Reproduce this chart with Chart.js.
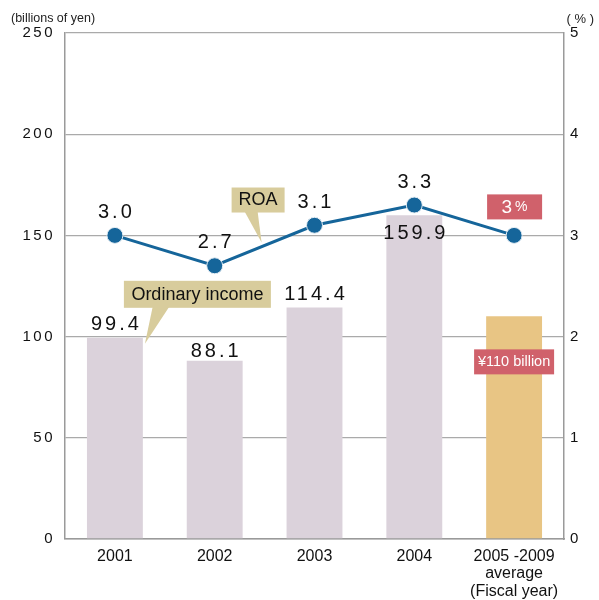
<!DOCTYPE html>
<html>
<head>
<meta charset="utf-8">
<script src="https://cdn.jsdelivr.net/npm/chart.js@4"></script>
<style>
  body { margin: 0; background: #fff; }
</style>
</head>
<body>
<canvas id="canvas" width="599" height="600"></canvas>
<script>
// DATA
const years = [['2001'], ['2002'], ['2003'], ['2004'], ['2005 -2009', 'average', '(Fiscal year)']];
const ordinaryIncome = [99.4, 88.1, 114.4, 159.9, 110];
const roa = [3.0, 2.7, 3.1, 3.3, 3.0];
const incomeLabels = ['99.4', '88.1', '114.4', '159.9', '¥110 billion'];
const roaLabels = ['3.0', '2.7', '3.1', '3.3', '3%'];

const barColors = ['#dbd2db', '#dbd2db', '#dbd2db', '#dbd2db', '#e8c584'];
const sans = '"Liberation Sans", Arial, sans-serif';

function box(ctx, x, y, w, h, color) {
    ctx.fillStyle = color;
    ctx.fillRect(x, y, w, h);
}

// labels, callouts and axis titles
const extras = {
    id: 'extras',
    beforeDraw(chart) {
        chart.ctx.letterSpacing = '2.5px';
    },
    beforeDatasetsDraw(chart) {
        chart.ctx.letterSpacing = '0px';
    },
    afterDraw(chart) {
        const ctx = chart.ctx;
        const x = chart.scales.x, y = chart.scales.y, y1 = chart.scales.y1;
        ctx.save();
        ctx.letterSpacing = '0px';

        // axis titles
        ctx.fillStyle = '#222';
        ctx.font = '12.5px ' + sans;
        ctx.textBaseline = 'middle';
        ctx.textAlign = 'left';
        ctx.fillText('(billions of yen)', 11, 19);
        ctx.font = '13px ' + sans;
        ctx.textAlign = 'right';
        ctx.fillText('( % )', 594, 19);
        ctx.textAlign = 'center';

        // callout: ROA, tip at middle of 2002-2003 segment
        const tx = (x.getPixelForValue(1) + x.getPixelForValue(2)) / 2 - 3;
        const ty = (y1.getPixelForValue(roa[1]) + y1.getPixelForValue(roa[2])) / 2 - 3;
        ctx.fillStyle = '#d8cc9c';
        ctx.beginPath();
        ctx.moveTo(tx - 17, ty - 31);
        ctx.lineTo(tx - 4, ty - 31);
        ctx.lineTo(tx, ty);
        ctx.closePath();
        ctx.fill();
        box(ctx, tx - 30, ty - 55, 53, 25, '#d8cc9c');
        ctx.fillStyle = '#111';
        ctx.font = '18px ' + sans;
        ctx.fillText('ROA', tx - 3.5, ty - 42);

        // callout: Ordinary income, tip at 2001 bar corner
        const bx = x.getPixelForValue(0) + 30, by = y.getPixelForValue(ordinaryIncome[0]) + 6;
        ctx.fillStyle = '#d8cc9c';
        ctx.beginPath();
        ctx.moveTo(bx + 8, by - 38);
        ctx.lineTo(bx + 25, by - 38);
        ctx.lineTo(bx, by);
        ctx.closePath();
        ctx.fill();
        box(ctx, bx - 21, by - 63, 147, 27, '#d8cc9c');
        ctx.fillStyle = '#111';
        ctx.fillText('Ordinary income', bx + 52.5, by - 49);

        // ROA value labels
        ctx.font = '20px ' + sans;
        ctx.letterSpacing = '3px';
        for (let i = 0; i < 4; i++) {
            const px = x.getPixelForValue(i), py = y1.getPixelForValue(roa[i]);
            ctx.fillText(roaLabels[i], px + 1.5, py - 23);
        }
        // income value labels
        for (let i = 0; i < 4; i++) {
            const px = x.getPixelForValue(i), py = y.getPixelForValue(ordinaryIncome[i]);
            const off = i === 3 ? 18 : i === 1 ? -9 : -13;
            ctx.fillText(incomeLabels[i], px + 1.5, py + off);
        }
        ctx.letterSpacing = '0px';

        // 2005-2009 targets
        const px = x.getPixelForValue(4);
        const py = y1.getPixelForValue(roa[4]);
        box(ctx, px - 27, py - 41, 55, 25, '#d0616b');
        ctx.fillStyle = '#fff';
        ctx.font = '19px ' + sans;
        ctx.textAlign = 'right';
        ctx.fillText('3', px - 2, py - 28);
        ctx.font = '14px ' + sans;
        ctx.textAlign = 'left';
        ctx.fillText('%', px + 1, py - 28);

        const qy = y.getPixelForValue(ordinaryIncome[4]);
        box(ctx, px - 40, qy + 33, 80, 25, '#d0616b');
        ctx.fillStyle = '#fff';
        ctx.font = '14.5px ' + sans;
        ctx.textAlign = 'center';
        ctx.fillText(incomeLabels[4], px, qy + 46);

        ctx.restore();
    }
};

const ctx = document.getElementById('canvas').getContext('2d');

const myChart = new Chart(ctx, {
    data: {
        labels: years,
        datasets: [{
            type: 'line',
            label: 'ROA',
            data: roa,
            yAxisID: 'y1',
            borderColor: '#15659a',
            backgroundColor: '#15659a',
            borderWidth: 3,
            pointRadius: 8,
            pointBorderWidth: 1,
            pointBorderColor: '#e6eef4',
            order: 0
        }, {
            type: 'bar',
            label: 'Ordinary income',
            data: ordinaryIncome,
            yAxisID: 'y',
            backgroundColor: barColors,
            barPercentage: 0.56,
            categoryPercentage: 1,
            order: 1
        }]
    },
    options: {
        responsive: false,
        animation: false,
        layout: { padding: { top: 33, left: 0, right: 0, bottom: 0 } },
        plugins: {
            legend: { display: false },
            tooltip: { enabled: false }
        },
        scales: {
            x: {
                afterFit: s => { s.height = 61; },
                grid: { display: false },
                border: { color: '#9a9a9a', width: 1.5 },
                ticks: {
                    z: 1,
                    color: '#111',
                    font: { family: sans, size: 16, lineHeight: 1.08 },
                    padding: 1,
                    maxRotation: 0,
                    autoSkip: false
                }
            },
            y: {
                position: 'left',
                min: 0,
                max: 250,
                afterFit: s => { s.width = 65; },
                grid: { color: '#aaaaaa', lineWidth: 1.3, drawTicks: false },
                border: { color: '#9a9a9a', width: 1.5 },
                ticks: {
                    stepSize: 50,
                    color: '#111',
                    font: { family: sans, size: 15 },
                    padding: 10
                }
            },
            y1: {
                position: 'right',
                min: 0,
                max: 5,
                afterFit: s => { s.width = 35; },
                grid: { display: false, drawTicks: false },
                border: { color: '#9a9a9a', width: 1.5 },
                ticks: {
                    stepSize: 1,
                    color: '#111',
                    font: { family: sans, size: 15 },
                    padding: 6
                }
            }
        }
    },
    plugins: [extras]
});
</script>
</body>
</html>
